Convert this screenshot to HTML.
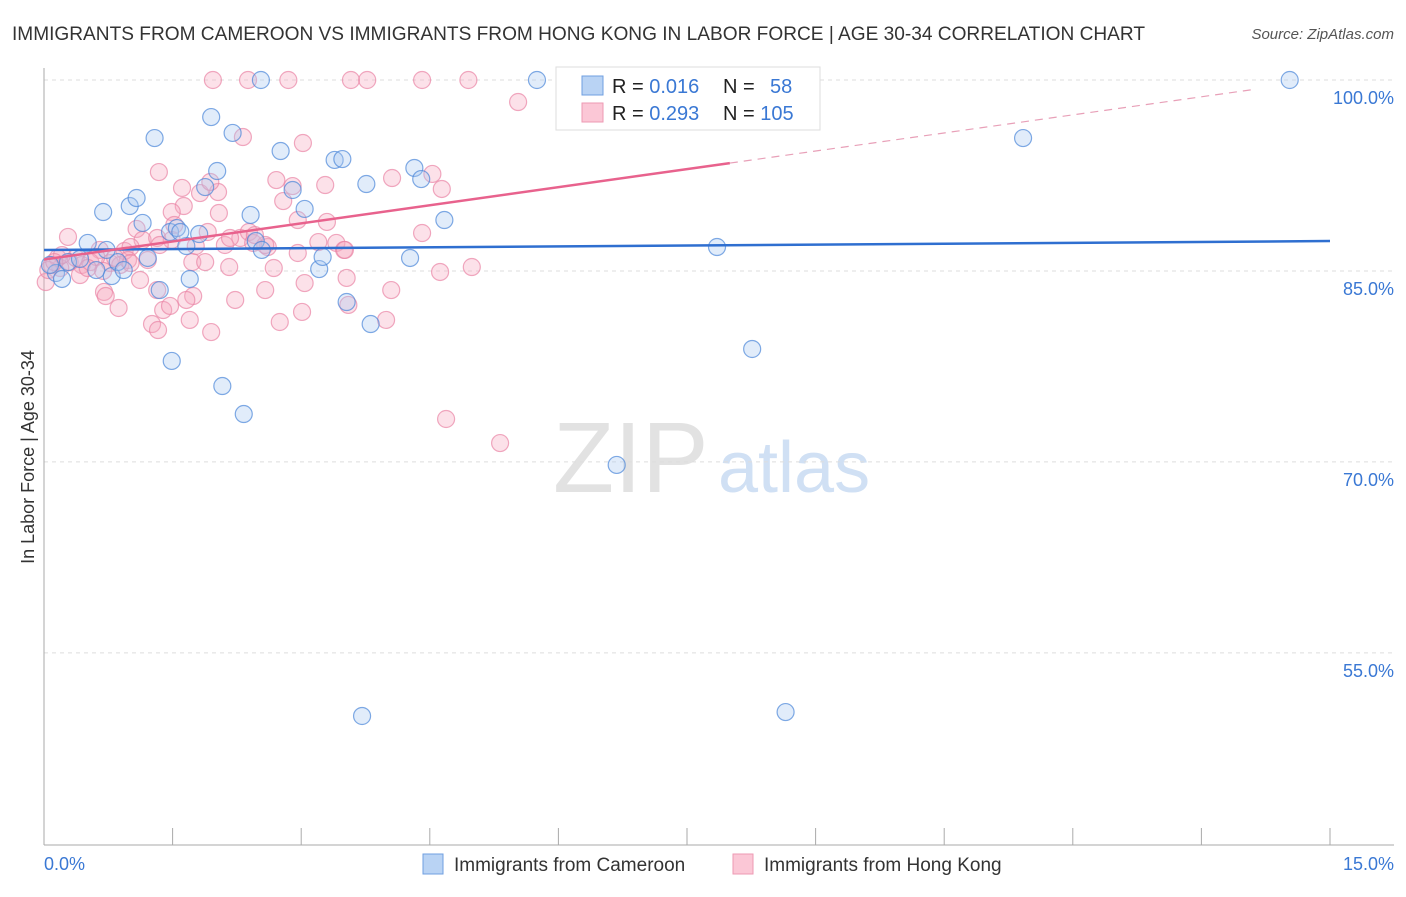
<!DOCTYPE html>
<html><head><meta charset="utf-8"><style>
body{margin:0;background:#fff;font-family:"Liberation Sans",sans-serif;}
svg text{font-family:"Liberation Sans",sans-serif;}
</style></head><body>
<svg id="chart" width="1406" height="892" viewBox="0 0 1406 892">
<text x="12" y="40" font-size="19.1" fill="#333">IMMIGRANTS FROM CAMEROON VS IMMIGRANTS FROM HONG KONG IN LABOR FORCE | AGE 30-34 CORRELATION CHART</text>
<text x="1394" y="39" font-size="15" fill="#555" font-style="italic" text-anchor="end">Source: ZipAtlas.com</text>
<text x="553" y="492" font-size="100" fill="#e2e2e2" font-family="Liberation Serif">ZIP</text>
<text x="718" y="492" font-size="72" fill="#d0e0f4">atlas</text>
<g id="grid"></g><g id="axes"></g><g id="pts"></g><g id="lines"></g>
<text transform="translate(34,457) rotate(-90)" font-size="18" fill="#333" text-anchor="middle">In Labor Force | Age 30-34</text>
<text x="44" y="870" font-size="18" fill="#3a78d4">0.0%</text>
<text x="1394" y="870" font-size="18" fill="#3a78d4" text-anchor="end">15.0%</text>
<g>
<rect x="556" y="67" width="264" height="63" fill="#fff" stroke="#ddd"/>
<rect x="582" y="76" width="21" height="19" fill="#b9d3f4" stroke="#6f9fe0"/>
<rect x="582" y="103" width="21" height="19" fill="#fbc7d6" stroke="#ee9ab3"/>
<text x="612" y="93" font-size="20" fill="#222">R = <tspan fill="#3a78d4">0.016</tspan></text>
<text x="723" y="93" font-size="20" fill="#222">N = <tspan fill="#3a78d4" x="770">58</tspan></text>
<text x="612" y="120" font-size="20" fill="#222">R = <tspan fill="#3a78d4">0.293</tspan></text>
<text x="723" y="120" font-size="20" fill="#222">N = <tspan fill="#3a78d4">105</tspan></text>
</g>
<g>
<rect x="423" y="854" width="20" height="20" fill="#b9d3f4" stroke="#6f9fe0"/>
<text x="454" y="871" font-size="19" fill="#333">Immigrants from Cameroon</text>
<rect x="733" y="854" width="20" height="20" fill="#fbc7d6" stroke="#ee9ab3"/>
<text x="764" y="871" font-size="19" fill="#333">Immigrants from Hong Kong</text>
</g>
</svg>
<script>
const yTicks=[100,85,70,55];
const yTickLabels=["100.0%","85.0%","70.0%","55.0%"];
const xTicks=[0,1.5,3,4.5,6,7.5,9,10.5,12,13.5,15];
const bluePx=[[56,273],[62,279],[88,243],[96,270],[103,212],[112,276],[118,262],[124,270],[130,206],[137,198],[143,223],[148,258],[155,138],[160,290],[170,232],[172,361],[177,228],[186,246],[190,279],[199,234],[205,187],[211,117],[217,171],[222,386],[233,133],[244,414],[251,215],[256,241],[262,250],[261,80],[281,151],[293,190],[305,209],[319,269],[323,257],[335,160],[342,159],[347,302],[366,184],[362,716],[371,324],[410,258],[414,168],[421,179],[444,220],[537,80],[617,465],[717,247],[752,349],[786,712],[811,80],[1023,138],[1290,80],[68,262],[80,259],[50,265],[107,250],[180,232]];
const pinkPx=[[213,80],[248,80],[288,80],[351,80],[367,80],[422,80],[468,80],[642,80],[518,102],[243,137],[303,143],[159,172],[276,180],[293,186],[325,185],[392,178],[432,174],[442,189],[182,188],[200,193],[218,192],[184,206],[219,213],[172,212],[327,222],[283,201],[422,233],[208,232],[174,225],[137,229],[143,240],[157,238],[68,237],[100,250],[125,251],[131,247],[196,246],[225,245],[240,238],[249,232],[268,247],[298,253],[318,242],[336,243],[344,250],[305,283],[70,262],[82,265],[110,263],[120,265],[128,260],[148,260],[192,262],[205,262],[229,267],[274,268],[440,272],[472,267],[347,278],[391,290],[348,305],[302,312],[280,322],[265,290],[235,300],[193,296],[186,300],[157,290],[140,280],[104,292],[106,296],[119,308],[152,324],[158,330],[163,310],[170,306],[190,320],[211,332],[386,320],[446,419],[500,443],[60,268],[52,265],[58,258],[76,258],[90,262],[96,257],[46,282],[131,263],[48,270],[253,243],[265,245],[172,240],[103,271],[80,275],[210,182],[298,220],[345,250],[62,255],[54,262],[88,268],[115,258],[255,235],[230,238],[160,245]];
const X0=44,X1=1330,Y100=80,PPP=12.73;
const blueX=bluePx.map(p=>+((p[0]-X0)/(X1-X0)*15).toFixed(2));
const blueY=bluePx.map(p=>+(100-(p[1]-Y100)/PPP).toFixed(2));
const pinkX=pinkPx.map(p=>+((p[0]-X0)/(X1-X0)*15).toFixed(2));
const pinkY=pinkPx.map(p=>+(100-(p[1]-Y100)/PPP).toFixed(2));
const blueTrend=[86.65,87.35];
const pinkTrend=[85.9,100.1];
const pinkSolidEnd=8.0;

const NS="http://www.w3.org/2000/svg";
const xs=v=>X0+v/15*(X1-X0);
const ys=v=>Y100+(100-v)*PPP;
function mk(tag,attrs,parent){const e=document.createElementNS(NS,tag);for(const k in attrs)e.setAttribute(k,attrs[k]);document.getElementById(parent).appendChild(e);return e;}
yTicks.forEach((t,i)=>{
 const l=mk('line',{x1:44,x2:1394,y1:ys(t),y2:ys(t),stroke:'#ddd','stroke-dasharray':'4,4'},'grid');
 
 
 const tx=mk('text',{x:1394,y:ys(t)+24,'font-size':18,fill:'#3a78d4','text-anchor':'end'},'grid');
 tx.textContent=yTickLabels[i];
 
 
});
const ya=mk('line',{x1:44,x2:44,y1:68,y2:845,stroke:'#aaa'},'axes');


const xa=mk('line',{x1:44,x2:1394,y1:845,y2:845,stroke:'#aaa'},'axes');


xTicks.forEach(t=>{
 const l=mk('line',{x1:xs(t),x2:xs(t),y1:828,y2:845,stroke:'#aaa'},'axes');
 
 
});
function pts(X,Y,fill,stroke,name){X.forEach((x,i)=>{
 const c=mk('circle',{cx:xs(x),cy:ys(Y[i]),r:8.5,fill:fill,'fill-opacity':0.35,stroke:stroke,'stroke-opacity':0.7,'stroke-width':1.2},'pts');
 
 
});}
pts(pinkX,pinkY,'#f7a8c0','#ea85a5','point-hongkong');
pts(blueX,blueY,'#a9c8f0','#4a86d8','point-cameroon');
const bl=mk('line',{x1:xs(0),y1:ys(blueTrend[0]),x2:xs(15),y2:ys(blueTrend[1]),stroke:'#2f6fd0','stroke-width':2.5},'lines');


const py=v=>pinkTrend[0]+(pinkTrend[1]-pinkTrend[0])*v/15;
const ps=mk('line',{x1:xs(0),y1:ys(py(0)),x2:xs(pinkSolidEnd),y2:ys(py(pinkSolidEnd)),stroke:'#e8628d','stroke-width':2.5},'lines');


const pd=mk('line',{x1:xs(pinkSolidEnd),y1:ys(py(pinkSolidEnd)),x2:xs(14.1),y2:ys(py(14.1)),stroke:'#e8a0b8','stroke-width':1.2,'stroke-dasharray':'8,6'},'lines');


</script>
</body></html>
